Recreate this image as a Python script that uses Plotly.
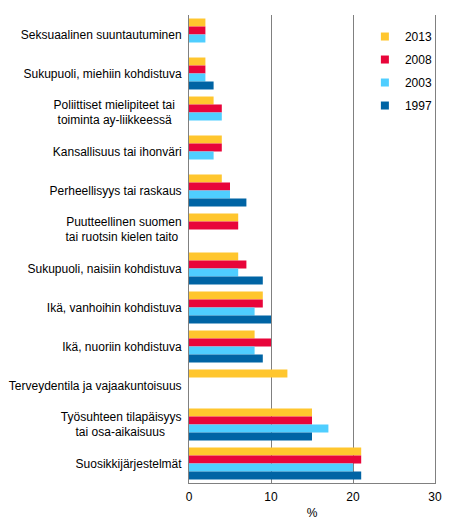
import plotly.graph_objects as go

NB = "\u00a0"

categories = [
    "Seksuaalinen suuntautuminen",
    "Sukupuoli, miehiin kohdistuva",
    "Poliittiset mielipiteet tai" + NB * 2 + "<br>toiminta ay-liikkeessä" + NB * 3,
    "Kansallisuus tai ihonväri",
    "Perheellisyys tai raskaus",
    "Puutteellinen suomen<br>tai ruotsin kielen taito" + NB,
    "Sukupuoli, naisiin kohdistuva",
    "Ikä, vanhoihin kohdistuva",
    "Ikä, nuoriin kohdistuva",
    "Terveydentila ja vajaakuntoisuus",
    "Työsuhteen tilapäisyys<br>tai osa-aikaisuus" + NB * 5,
    "Suosikkijärjestelmät",
]

years = ["2013", "2008", "2003", "1997"]
v2013 = [2, 2, 3, 4, 4, 6, 6, 9, 8, 12, 15, 21]
v2008 = [2, 2, 4, 4, 5, 6, 7, 9, 10, None, 15, 21]
v2003 = [2, 2, 4, 3, 5, None, 6, 8, 8, None, 17, 20]
v1997 = [None, 3, None, None, 7, None, 9, 10, 9, None, 15, 21]
values = [v2013, v2008, v2003, v1997]
colors = ["#FFC62E", "#E8053A", "#4FCEFF", "#0064A4"]

fig = go.Figure()
for yr, vals, c in zip(years, values, colors):
    fig.add_trace(go.Bar(y=categories, x=vals, orientation="h", name=yr,
                         marker=dict(color=c, line=dict(width=0)),
                         showlegend=False))
    # small square legend keys
    fig.add_trace(go.Scatter(x=[None], y=[None], mode="markers", name=yr,
                             legendgroup=yr,
                             marker=dict(symbol="square", size=8, color=c)))

# page has an 8px body margin, so the figure is 8px smaller each way
fig.update_layout(
    width=453, height=515,
    margin=dict(l=181, r=26, t=7, b=40, autoexpand=False),
    barmode="group", bargap=0.18, bargroupgap=0,
    plot_bgcolor="white", paper_bgcolor="white",
    font=dict(family="Liberation Sans, Arial, sans-serif", size=12, color="black"),
    legend=dict(x=0.715, y=0.985, xanchor="left", yanchor="top",
                bgcolor="rgba(0,0,0,0)", font=dict(size=12),
                itemwidth=30, tracegroupgap=4),
    xaxis=dict(range=[0, 30], tickvals=[0, 10, 20, 30], showgrid=True,
               gridcolor="#808080", gridwidth=1, zeroline=False,
               showline=True, linecolor="#808080", linewidth=1,
               ticks="outside", ticklen=3, tickcolor="white",
               automargin=False,
               title=dict(text="%", standoff=5, font=dict(size=12)),
               fixedrange=True),
    yaxis=dict(autorange="reversed", showline=True, mirror=True,
               linecolor="#808080", linewidth=1, ticks="outside", ticklen=4,
               tickcolor="white", showgrid=False, automargin=False,
               fixedrange=True),
)

fig.write_html("out.html")
